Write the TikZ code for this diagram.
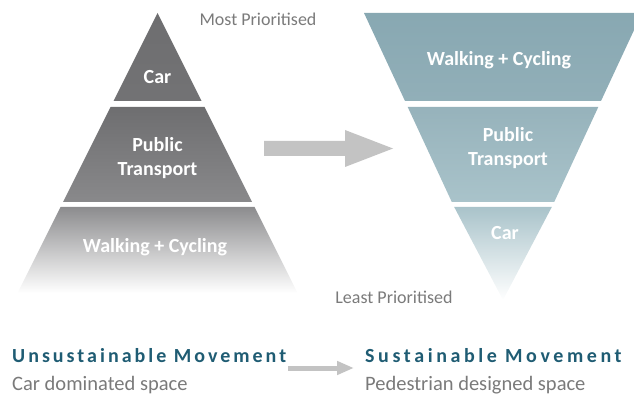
\documentclass[tikz,border=0pt]{standalone}
\usepackage{fontspec}
\setmainfont{Carlito}
\usetikzlibrary{arrows.meta}
\definecolor{pyrgray}{HTML}{6E6E70}
\definecolor{pyrlight}{HTML}{8C8C8E}
\definecolor{invteal}{HTML}{88A8B2}
\definecolor{invlight}{HTML}{A9C3CA}
\definecolor{arrgray}{HTML}{C3C3C3}
\definecolor{notegray}{HTML}{7A7A7A}
\definecolor{headteal}{HTML}{1F5C73}

\begin{document}
\begin{tikzpicture}[x=1pt,y=-1pt,
    tier/.style={text=white, align=center, font=\bfseries\fontsize{20}{24}\selectfont},
    note/.style={text=notegray, font=\fontsize{18}{20}\selectfont},
    head/.style={anchor=west, inner sep=0pt, text=headteal,
      font=\bfseries\addfontfeatures{LetterSpace=#1}\fontsize{20}{24}\selectfont},
    head/.default=15,
    sub/.style={anchor=west, inner sep=0pt, text=notegray, font=\fontsize{20.5}{24}\selectfont}]
  \useasboundingbox (0,0) rectangle (634,395);
  \clip (0,0) rectangle (634,395);
  % unsustainable pyramid
  \shade[top color=pyrgray, bottom color=pyrgray!97!white] (157.5,13) -- (201.5,101) -- (113.5,101) -- cycle;
  \shade[top color=pyrgray, bottom color=pyrlight!90!pyrgray] (110.5,107) -- (204.5,107) -- (252,202) -- (63,202) -- cycle;
  \shade[top color=pyrlight, bottom color=white] (60.5,207) -- (254.5,207) -- (297.5,293) -- (17.5,293) -- cycle;
  % sustainable pyramid
  \shade[top color=invteal, bottom color=invteal!92!white] (364,13) -- (642,13) -- (601,101) -- (405,101) -- cycle;
  \shade[top color=invteal!88!white, bottom color=invlight] (407.7,107) -- (598.3,107) -- (554.2,202) -- (451.8,202) -- cycle;
  \shade[top color=invlight, bottom color=white] (454.2,207) -- (551.8,207) -- (503,300) -- cycle;
  % big arrow
  \fill[arrgray] (264,141) -- (345,141) -- (345,130) -- (393,148.5) -- (345,167) -- (345,156) -- (264,156) -- cycle;

  \node[tier] (carA) at (157.5,77) {Car};
  \node[tier] (ptA) at (157.5,158) {Public\\Transport};
  \node[tier] (wcA) at (155,247) {Walking + Cycling};
  \node[tier] (wcB) at (499,60) {Walking + Cycling};
  \node[tier] (ptB) at (508,148) {Public\\Transport};
  \node[tier] (carB) at (505,233) {Car};
  \node[note] (most) at (258,19) {Most Prioritised};
  \node[note] (least) at (394,297) {Least Prioritised};

  \node[head] (unsus) at (12,356) {Unsustainable Movement};
  \node[sub] (cards) at (12,385) {Car dominated space};
  \node[head=18] (sus) at (365,356) {Sustainable Movement};
  \node[sub] (peds) at (365,385) {Pedestrian designed space};
  \coordinate (arrA) at (288,368);
  \coordinate (arrB) at (354,368);
  \draw[arrgray, line width=5pt, -{Triangle[length=17pt,width=13pt]}] (arrA) -- (arrB);
\end{tikzpicture}
\end{document}
